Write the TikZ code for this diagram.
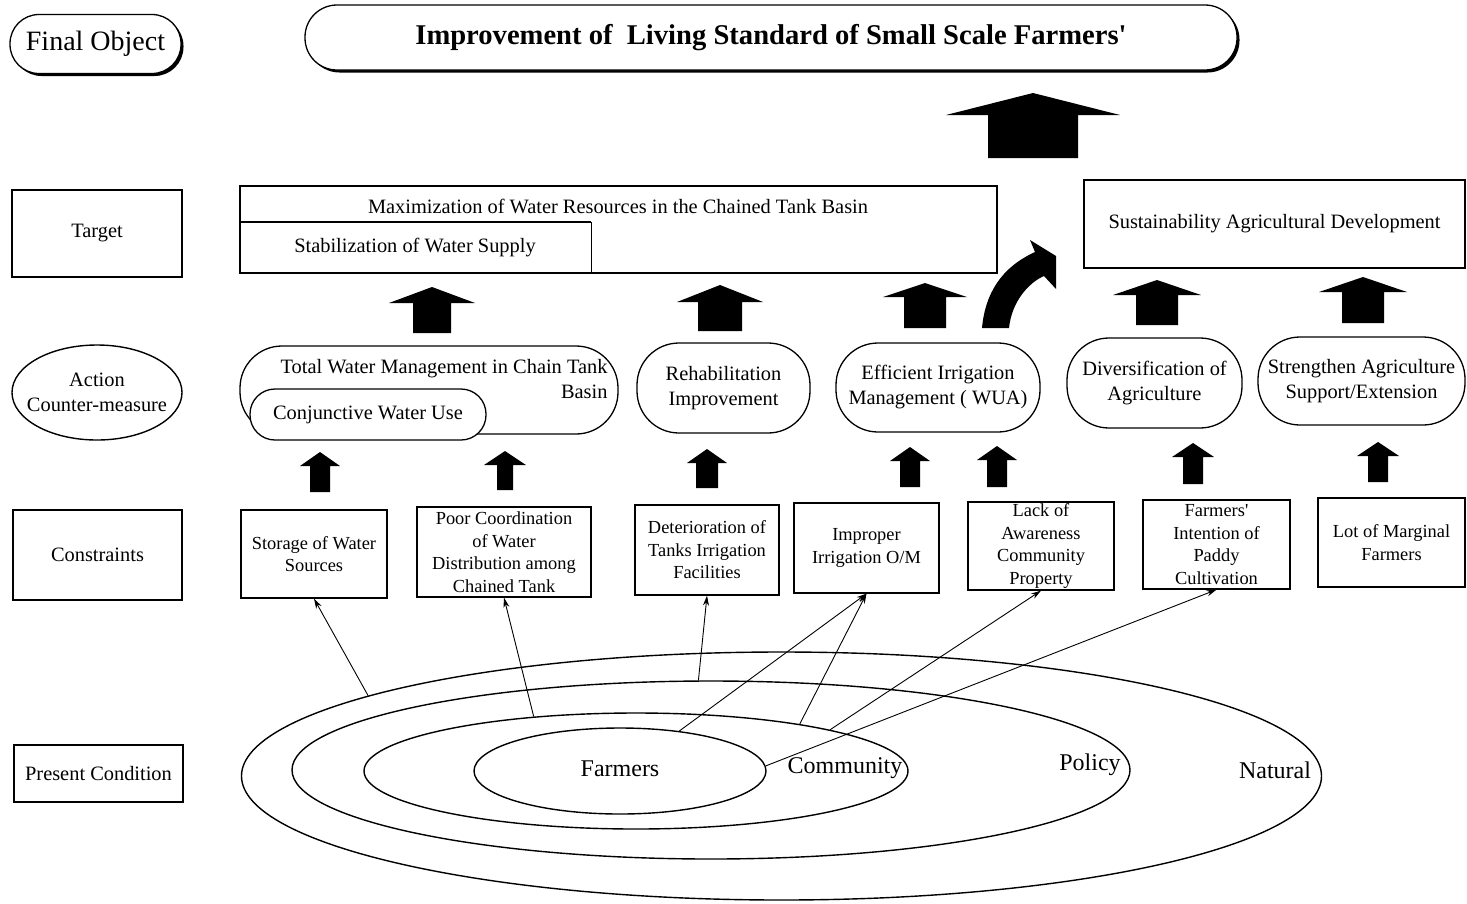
\documentclass[tikz,border=0pt]{standalone}
\usepackage{fontspec}
\setmainfont{Liberation Serif}[Ligatures=TeXOff]
\usetikzlibrary{shapes.geometric,shadows,arrows.meta}
\newcommand\blockarr[6]{\fill (#1,#2) -- ({#1+#5},#3) -- ({#1+#6},#3) -- ({#1+#6},#4) -- ({#1-#6},#4) -- ({#1-#6},#3) -- ({#1-#5},#3) -- cycle;}
\begin{document}
\begin{tikzpicture}[x=1pt,y=-1pt,
 lbl/.style={font=\fontsize{20.4}{25}\selectfont, align=center},
 cst/.style={font=\fontsize{18.4}{22.5}\selectfont, align=center},
 box/.style={draw, line width=1.3pt, inner sep=0pt},
 pill/.style={box, rounded corners=42pt},
 ell/.style={draw, ellipse, line width=1.4pt, inner sep=0pt},
 thinarr/.style={line width=0.9pt, -{Stealth[length=10pt,width=6pt]}},
 shad/.style={fill=white, drop shadow={shadow xshift=2.5pt, shadow yshift=-2.5pt, fill=black, opacity=1}},
 big/.style={font=\fontsize{24}{28}\selectfont}
]
\useasboundingbox (0,0) rectangle (1467,903);

% Final object row
\node[box, shad, rounded corners=29pt, minimum width=171pt, minimum height=59pt, font=\fontsize{28}{30}\selectfont] (fo) at (95.5,44) {Final Object};
\node[box, shad, rounded corners=32pt, minimum width=932pt, minimum height=65pt, font=\bfseries\fontsize{28.6}{32}\selectfont] (title) at (771,37.5) {Improvement of~~Living Standard of Small Scale Farmers'};

% Target row
\node[box, lbl, minimum width=170pt, minimum height=87pt] (tg) at (97,233.5) {Target};
\node[box, minimum width=757pt, minimum height=87pt] (mx) at (618.5,229.5) {};
\coordinate (mxd) at (591,222);
\draw[line width=1.3pt] (mx.west |- mxd) -- (mxd);
\draw[line width=0.6pt] (mxd) -- (mxd |- mx.south);
\node[lbl] (mxt) at (618,206) {Maximization of Water Resources in the Chained Tank Basin};
\node[lbl] (stb) at (415,248) {Stabilization of Water Supply};
\node[box, lbl, minimum width=381pt, minimum height=88pt] (sus) at (1274.5,224) {Sustainability Agricultural Development};

% Action row
\node[ell, minimum width=170pt, minimum height=95pt] (act) at (97,392.5) {};
\node[lbl] (actt) at (act.center) {Action\\Counter-measure};
\node[pill, minimum width=378pt, minimum height=88pt] (tw) at (429,390) {};
\node[lbl, anchor=east, align=right] (twt) at (611,379) {Total Water Management in Chain Tank\\Basin};
\node[box, fill=white, rounded corners=25pt, lbl, minimum width=236pt, minimum height=51pt] (cj) at (368,414.5) {Conjunctive Water Use};
\node[pill, lbl, minimum width=173pt, minimum height=90pt] (reh) at (723.5,388) {Rehabilitation\\Improvement};
\node[pill, lbl, minimum width=204pt, minimum height=89pt] (eff) at (938,387.5) {Efficient Irrigation\\Management ( WUA)};
\node[pill, lbl, minimum width=175pt, minimum height=90pt] (div) at (1154.5,383) {Diversification of\\Agriculture};
\node[pill, lbl, minimum width=207pt, minimum height=88pt] (str) at (1361.5,381) {Strengthen Agriculture\\Support/Extension};

% Constraints row
\node[box, lbl, minimum width=169pt, minimum height=90pt] (cn) at (97.5,555) {Constraints};
\node[box, cst, minimum width=146pt, minimum height=88pt] (sto) at (314,554) {Storage of Water\\Sources};
\node[box, cst, minimum width=174pt, minimum height=90pt] (poor) at (504,552) {Poor Coordination\\of Water\\Distribution among\\Chained Tank};
\node[box, cst, minimum width=144pt, minimum height=90pt] (det) at (707,550) {Deterioration of\\Tanks Irrigation\\Facilities};
\node[box, cst, minimum width=145pt, minimum height=90pt] (imp) at (866.5,548) {Improper\\Irrigation O/M};
\node[box, cst, minimum width=146pt, minimum height=88pt] (lack) at (1041,546) {Lack of\\Awareness\\Community\\Property};
\node[box, cst, minimum width=147pt, minimum height=89pt] (farm) at (1216.5,544.5) {Farmers'\\Intention of\\Paddy\\Cultivation};
\node[box, cst, minimum width=147pt, minimum height=89pt] (lot) at (1391.5,542.5) {Lot of Marginal\\Farmers};

% Present condition
\node[box, lbl, minimum width=169pt, minimum height=57pt] (pc) at (98.5,773.5) {Present Condition};
\node[ell, minimum width=1080pt, minimum height=248pt] (nat) at (781.5,776) {};
\node[ell, minimum width=838pt, minimum height=178pt] (pol) at (711,770) {};
\node[ell, minimum width=544pt, minimum height=116pt] (com) at (636,771) {};
\node[ell, minimum width=292pt, minimum height=86pt] (frm) at (620,771) {};
\node[big] (frmt) at (620,769) {Farmers};
\node[big] (comt) at (845,768) {Community};
\node[big] (polt) at (1090,765) {Policy};
\node[big] (natt) at (1275,770) {Natural};

% thin arrows
\draw[thinarr] (nat.169.8) -- (sto.south);
\draw[thinarr] (com.152.5) -- (poor.south);
\draw[thinarr] (pol.98.9) -- (det.south);
\draw[thinarr] (frm.34.3) -- (imp.south);
\draw[thinarr] (com.16.5) -- (imp.south);
\draw[thinarr] (com.12) -- (lack.south);
\draw[thinarr] (frm.2) -- (farm.south);

% block arrows
\blockarr{1033}{93}{115}{158}{87}{45}
\blockarr{432}{287}{303}{333}{43}{19}
\blockarr{720}{285}{302}{331}{43}{22}
\blockarr{925}{283}{297}{328}{42}{21}
\blockarr{1157}{280}{295}{325}{44}{21}
\blockarr{1363}{277}{292}{323}{44}{21}
\blockarr{320}{452}{466}{492}{20}{10}
\blockarr{505}{451}{465}{490}{21}{8}
\blockarr{707}{449}{463}{488}{20}{11}
\blockarr{910}{447}{461}{487}{20}{10}
\blockarr{997}{446}{460}{487}{20}{10}
\blockarr{1193}{443}{457}{484}{21}{10}
\blockarr{1378}{442}{456}{482}{21}{10}
% curved arrow
\fill (982,328) .. controls (985,295) and (1000,268) .. (1035,252) -- (1030,240) -- (1056,256) -- (1056,289) -- (1044,276) .. controls (1030,282) and (1012,300) .. (1009,328) -- cycle;
\end{tikzpicture}
\end{document}
